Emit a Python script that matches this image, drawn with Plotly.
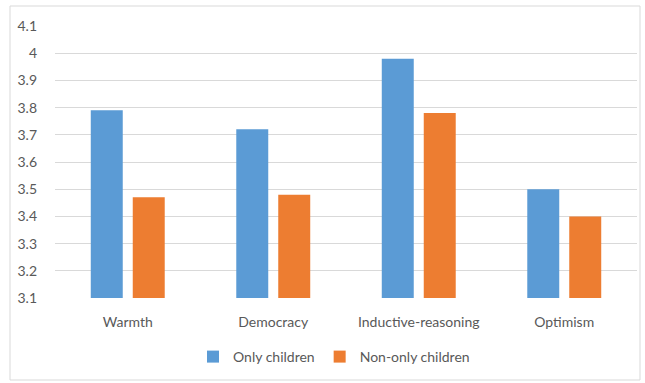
import plotly.graph_objects as go

categories = ["Warmth", "Democracy", "Inductive-reasoning", "Optimism"]
only_children = [3.79, 3.72, 3.98, 3.50]
non_only_children = [3.47, 3.48, 3.78, 3.40]
series_names = ["Only children", "Non-only children"]
y_ticks = [3.1, 3.2, 3.3, 3.4, 3.5, 3.6, 3.7, 3.8, 3.9, 4.0, 4.1]
y_tick_labels = ["3.1", "3.2", "3.3", "3.4", "3.5", "3.6", "3.7", "3.8", "3.9", "4", "4.1"]

W, H = 645, 383
L, R, T, B = 55, 8, 26, 85
pw, ph = W - L - R, H - T - B

def px_x(x):
    return (x - L) / pw

def px_y(y):
    return (H - B - y) / ph

font_family = "Lato, Open Sans, sans-serif"
text_color = "#595959"

fig = go.Figure()
fig.add_trace(go.Bar(x=categories, y=only_children, name=series_names[0],
                     marker=dict(color="#5B9BD5", line=dict(width=0))))
fig.add_trace(go.Bar(x=categories, y=non_only_children, name=series_names[1],
                     marker=dict(color="#ED7D31", line=dict(width=0))))

fig.update_layout(
    width=W, height=H,
    margin=dict(l=L, r=R, t=T, b=B),
    paper_bgcolor="white", plot_bgcolor="white",
    barmode="group", bargap=0.423, bargroupgap=0.238,
    font=dict(family=font_family, size=14, color=text_color),
    showlegend=True,
    legend=dict(orientation="h", x=px_x(334), xanchor="center",
                y=px_y(357), yanchor="middle",
                font=dict(size=14, color=text_color),
                itemwidth=30, tracegroupgap=0),
    xaxis=dict(showgrid=False, showline=False, ticks="", ticklabelstandoff=14,
               tickfont=dict(size=14, color=text_color)),
    yaxis=dict(range=[3.1, 4.1], tickvals=y_ticks, ticktext=y_tick_labels,
               showgrid=True, gridcolor="#D9D9D9", gridwidth=1, zeroline=False,
               showline=False, ticks="", ticklabelstandoff=17,
               tickfont=dict(size=14, color=text_color)),
    shapes=[dict(type="rect", xref="paper", yref="paper",
                 x0=px_x(10), x1=px_x(640), y0=px_y(380), y1=px_y(6),
                 line=dict(color="#D9D9D9", width=1), fillcolor="rgba(0,0,0,0)", layer="below")],
)

fig.write_html("out.html")
